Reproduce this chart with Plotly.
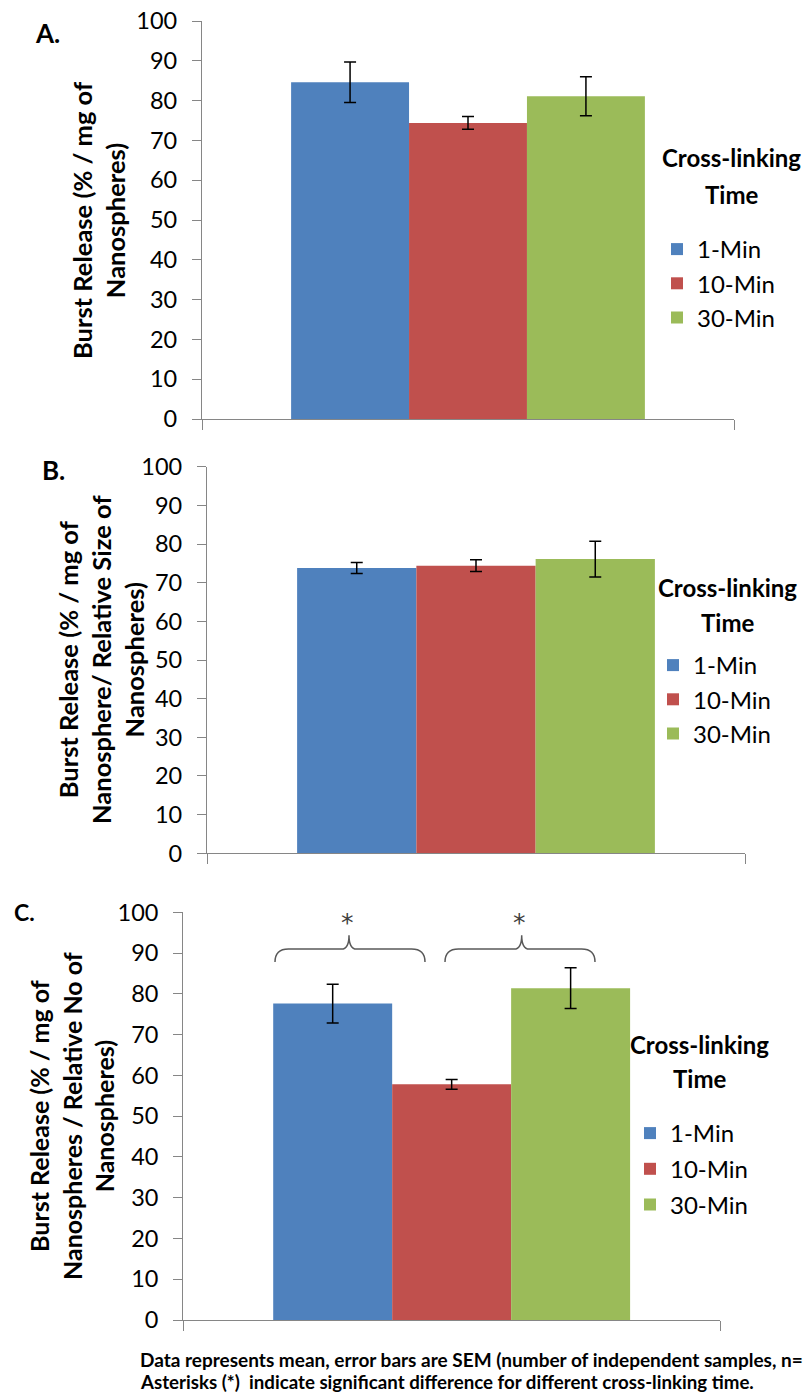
import plotly.graph_objects as go

# ---------------- data ----------------
time_labels = ["1-Min", "10-Min", "30-Min"]
bar_colors = ["#4F81BD", "#C0504D", "#9BBB59"]
category = ["Burst"]

A_mean = [84.6, 74.4, 81.1]
A_sem = [5.1, 1.6, 4.9]
B_mean = [73.8, 74.4, 76.1]
B_sem = [1.4, 1.5, 4.6]
C_mean = [77.6, 57.8, 81.4]
C_sem = [4.75, 1.2, 5.0]

y_ticks = [0, 10, 20, 30, 40, 50, 60, 70, 80, 90, 100]

panel_labels = ["A.", "B.", "C."]
y_titles = [
    "Burst Release (% / mg of<br>Nanospheres)",
    "Burst Release (% / mg of<br>Nanosphere/ Relative Size of<br>Nanospheres)",
    "Burst Release (% / mg of<br>Nanospheres / Relative No of<br>Nanospheres)",
]
legend_title_lines = ["Cross-linking", "Time"]
footnote_1 = "Data represents mean, error bars are SEM (number of independent samples, n="
footnote_2 = "Asterisks (*)  indicate significant difference for different cross-linking time."

# ---------------- layout geometry (pixels) ----------------
W, H = 804, 1392
FONT = "Lato"

def px_x(x):
    return x / W

def px_y(y):
    return 1 - y / H

# plot areas: (left, right, top, bottom) in px
areas = [(202, 734, 21, 419), (207, 745, 466.7, 853.3), (183.3, 720, 912.3, 1320)]

fig = go.Figure()
series = [(A_mean, A_sem), (B_mean, B_sem), (C_mean, C_sem)]
legend_names = ["legend", "legend2", "legend3"]

for p, (means, sems) in enumerate(series):
    xa = "x" if p == 0 else f"x{p+1}"
    ya = "y" if p == 0 else f"y{p+1}"
    for i, name in enumerate(time_labels):
        fig.add_trace(go.Bar(
            x=category, y=[means[i]], name=name,
            marker=dict(color=bar_colors[i], line=dict(width=0)),
            error_y=dict(type="data", array=[sems[i]], color="#000000",
                         thickness=1.5, width=6),
            xaxis=xa, yaxis=ya, legend=legend_names[p],
            legendgroup=f"{p}-{i}",
        ))

layout = dict(
    width=W, height=H,
    margin=dict(l=0, r=0, t=0, b=0, pad=0, autoexpand=False),
    paper_bgcolor="white", plot_bgcolor="white",
    barmode="group", bargap=0.335, bargroupgap=0,
    font=dict(family=FONT, color="#000000"),
    showlegend=True,
)

for p, (l, r, t, b) in enumerate(areas):
    sx = "" if p == 0 else str(p + 1)
    layout[f"xaxis{sx}"] = dict(
        domain=[px_x(l), px_x(r)], anchor=f"y{sx}", type="category",
        showticklabels=False, ticks="outside", tickson="boundaries",
        ticklen=10, tickcolor="#868686", tickwidth=1.3,
        showline=True, linecolor="#868686", linewidth=1.3,
        showgrid=False, zeroline=False, automargin=False,
    )
    layout[f"yaxis{sx}"] = dict(
        domain=[px_y(b), px_y(t)], anchor=f"x{sx}", range=[0, 100],
        tickvals=y_ticks, ticks="outside", ticklen=9,
        tickcolor="#868686", tickwidth=1.3,
        showline=True, linecolor="#868686", linewidth=1.3,
        showgrid=False, zeroline=False, automargin=False,
        tickfont=dict(family=FONT, size=23.5, color="#000000"),
        ticklabelstandoff=10,
    )

# legends (items only); title drawn as centered text lines
legend_pos = [(657, 227, 0), (653, 643, 0), (630, 1111, 1.5)]
for p, (lx, ty, gap) in enumerate(legend_pos):
    key = legend_names[p]
    layout[key] = dict(
        x=px_x(lx), y=px_y(ty), xanchor="left", yanchor="top",
        bgcolor="rgba(0,0,0,0)",
        font=dict(family=FONT, size=24, color="#000000"),
        traceorder="grouped", tracegroupgap=gap,
        itemwidth=30,
    )

fig.update_layout(**layout)

legend_title_pos = [(731, 157, 195), (727, 587, 623), (699, 1044, 1078)]
for cx, y1, y2 in legend_title_pos:
    for txt, yy in zip(legend_title_lines, (y1, y2)):
        fig.add_annotation(
            text=txt, x=px_x(cx), y=px_y(yy), xref="paper", yref="paper",
            showarrow=False, xanchor="center", yanchor="middle",
            font=dict(family=FONT, size=24, color="#000000", weight="bold"),
        )

# y-axis titles (rotated) and panel labels
title_pos = [(98, 220, 25.5), (101, 660, 25.5), (71, 1116, 25)]
for p, (cx, cy, fs) in enumerate(title_pos):
    fig.add_annotation(
        text=y_titles[p], x=px_x(cx), y=px_y(cy), xref="paper", yref="paper",
        textangle=-90, showarrow=False, xanchor="center", yanchor="middle",
        font=dict(family=FONT, size=fs, color="#000000", weight="bold"),
    )

label_pos = [(33, 33, 26), (40, 470, 26), (12, 912, 23)]
for p, (lx, ly, fs) in enumerate(label_pos):
    fig.add_annotation(
        text=panel_labels[p], x=px_x(lx), y=px_y(ly), xref="paper", yref="paper",
        showarrow=False, xanchor="left", yanchor="middle",
        font=dict(family=FONT, size=fs, color="#000000", weight="bold"),
    )

# significance braces in panel C (x in axis-domain units, y in data units)
def brace(x0, xm, x1, y_end, y_line, y_cusp, rx=0.025, rc=0.014):
    return (f"M {x0},{y_end} Q {x0},{y_line} {x0+rx},{y_line} "
            f"L {xm-rc},{y_line} Q {xm},{y_line} {xm},{y_cusp} "
            f"Q {xm},{y_line} {xm+rc},{y_line} "
            f"L {x1-rx},{y_line} Q {x1},{y_line} {x1},{y_end}")

cl, cr = areas[2][0], areas[2][1]
def dom(xpx):
    return (xpx - cl) / (cr - cl)

braces_px = [(275, 349, 425), (445, 521.7, 595)]
for x0, xm, x1 in braces_px:
    fig.add_shape(type="path", xref="x3 domain", yref="y3",
                  path=brace(dom(x0), dom(xm), dom(x1), 87.8, 91.0, 94.4),
                  line=dict(color="#595959", width=1.5))
    fig.add_annotation(text="*", x=dom(xm - 2), y=97.5, xref="x3 domain", yref="y3",
                       showarrow=False, xanchor="center", yanchor="middle",
                       font=dict(family="DejaVu Sans", size=25, color="#404040"))

# footnote
fig.add_annotation(text=footnote_1, x=px_x(138), y=px_y(1359), xref="paper", yref="paper",
                   showarrow=False, xanchor="left", yanchor="middle",
                   font=dict(family=FONT, size=19, color="#000000", weight="bold"))
fig.add_annotation(text=footnote_2, x=px_x(138), y=px_y(1382), xref="paper", yref="paper",
                   showarrow=False, xanchor="left", yanchor="middle",
                   font=dict(family=FONT, size=18.7, color="#000000", weight="bold"))

fig.write_html("out.html")
